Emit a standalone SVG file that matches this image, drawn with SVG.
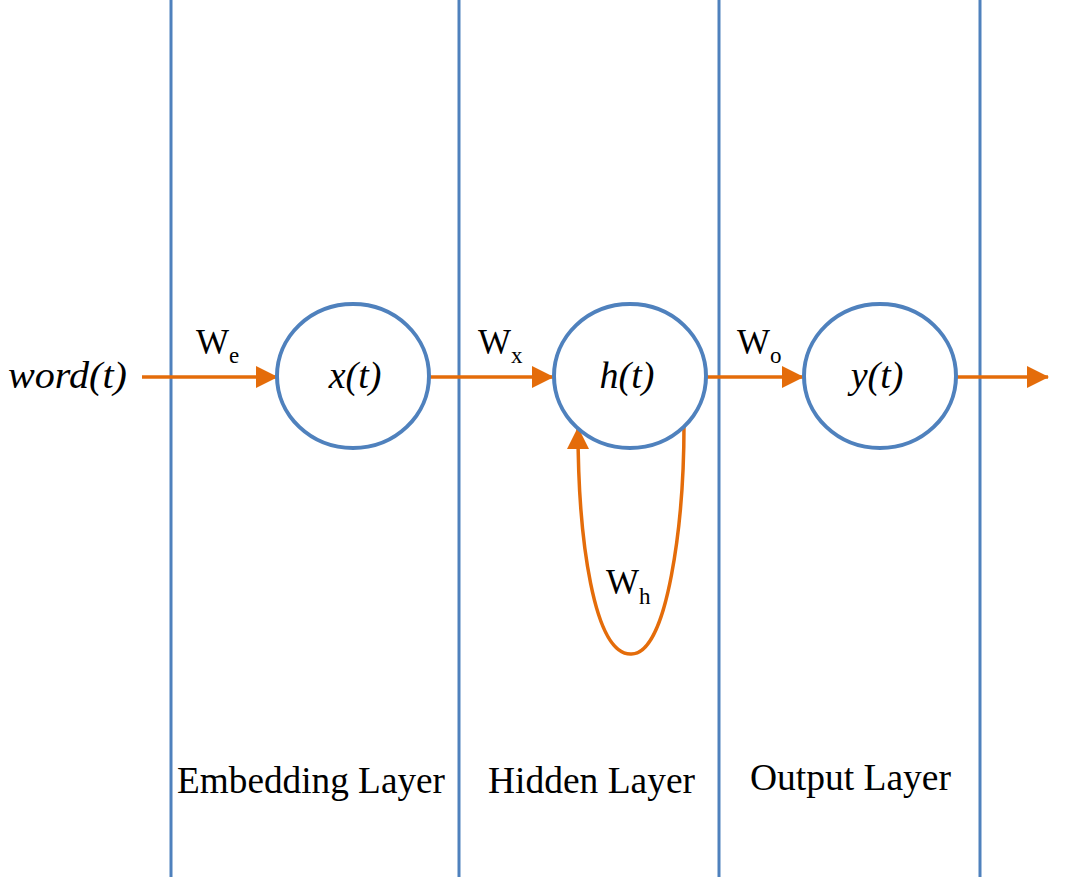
<svg xmlns="http://www.w3.org/2000/svg" width="1085" height="877" viewBox="0 0 1085 877">
<defs>
<style>
.div{stroke:#4F81BD;stroke-width:3;fill:none}
.node{stroke:#4F81BD;stroke-width:4;fill:#fff}
.edge{stroke:#E46C0A;stroke-width:3.5;fill:none}
.math{font-family:"Liberation Serif","DejaVu Serif",serif;font-style:italic;font-size:38px;fill:#000}
.w{font-family:"Liberation Serif","Times New Roman",serif;font-size:35px;fill:#000}
.sub{font-size:23px}
.lbl{font-family:"Liberation Serif","Times New Roman",serif;font-size:38px;fill:#000}
</style>
<marker id="ah" markerWidth="22" markerHeight="22" viewBox="0 0 22 22" refX="21" refY="11" orient="auto" markerUnits="userSpaceOnUse">
<path d="M0,0 L22,11 L0,22 Z" fill="#E46C0A"/>
</marker>
</defs>
<rect width="1085" height="877" fill="#fff"/>
<g id="dividers">
<line class="div" x1="171" y1="0" x2="171" y2="877"/>
<line class="div" x1="459" y1="0" x2="459" y2="877"/>
<line class="div" x1="719" y1="0" x2="719" y2="877"/>
<line class="div" x1="980" y1="0" x2="980" y2="877"/>
</g>
<g id="connectors">
<line class="edge" x1="142" y1="377" x2="277" y2="377" marker-end="url(#ah)"/>
<line class="edge" x1="430" y1="377" x2="553" y2="377" marker-end="url(#ah)"/>
<line class="edge" x1="707" y1="377" x2="803" y2="377" marker-end="url(#ah)"/>
<line class="edge" x1="957" y1="377" x2="1048" y2="377" marker-end="url(#ah)"/>
<path class="edge" d="M684,425 C684,520 668,655 631,654 C594,655 578,540 578,428" marker-end="url(#ah)"/>
<text class="w" x="196" y="354">W<tspan class="sub" dy="9">e</tspan></text>
<text class="w" x="478" y="354">W<tspan class="sub" dy="9">x</tspan></text>
<text class="w" x="737" y="354">W<tspan class="sub" dy="9">o</tspan></text>
<text class="w" x="606" y="594">W<tspan class="sub" dy="10">h</tspan></text>
</g>
<g id="word">
<text class="math" x="8" y="388" textLength="119" lengthAdjust="spacingAndGlyphs">word(t)</text>
</g>
<g id="x">
<ellipse class="node" cx="353" cy="376" rx="76" ry="72"/>
<text class="math" x="355" y="388" text-anchor="middle">x(t)</text>
</g>
<g id="h">
<ellipse class="node" cx="630" cy="376" rx="76" ry="72"/>
<text class="math" x="627" y="388" text-anchor="middle">h(t)</text>
</g>
<g id="y">
<ellipse class="node" cx="880" cy="376" rx="76" ry="72"/>
<text class="math" x="877" y="388" text-anchor="middle">y(t)</text>
</g>
<g id="labels">
<text class="lbl" x="177" y="793" textLength="268" lengthAdjust="spacingAndGlyphs">Embedding Layer</text>
<text class="lbl" x="488" y="793" textLength="207" lengthAdjust="spacingAndGlyphs">Hidden Layer</text>
<text class="lbl" x="750" y="790" textLength="201" lengthAdjust="spacingAndGlyphs">Output Layer</text>
</g>
</svg>
